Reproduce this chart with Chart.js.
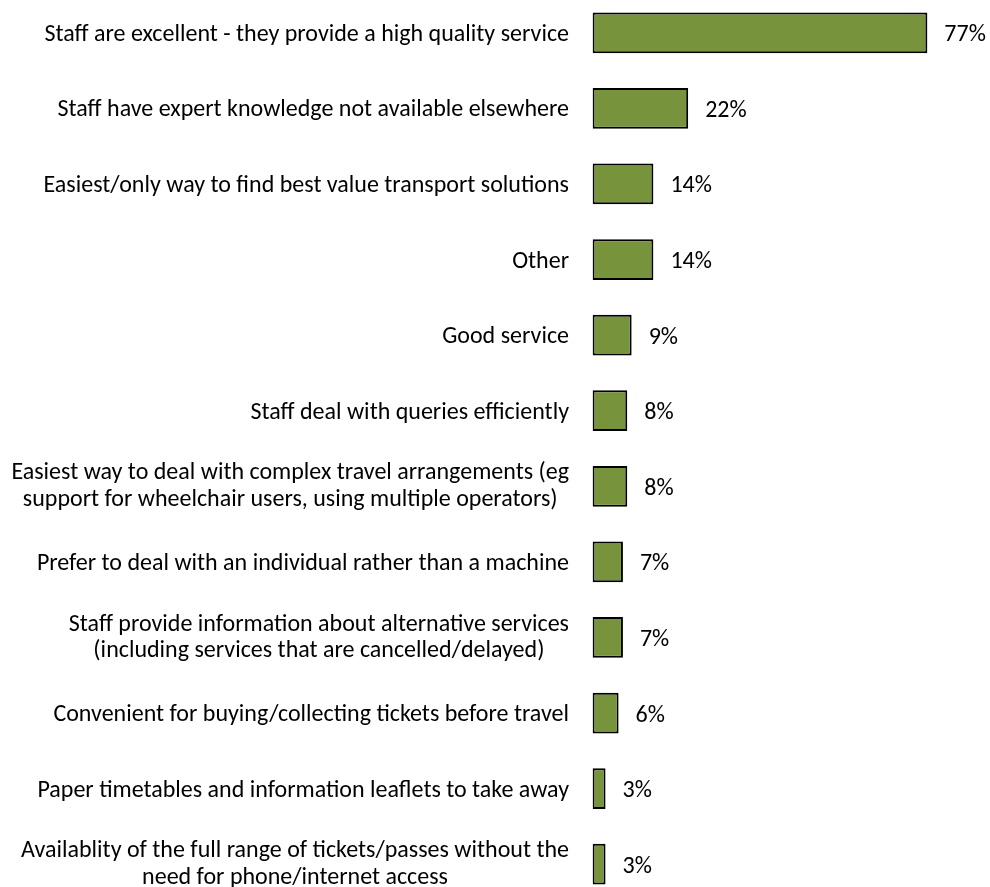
<!DOCTYPE html>
<html>
<head>
<meta charset="utf-8">
<script src="https://cdn.jsdelivr.net/npm/chart.js@4/dist/chart.umd.min.js"></script>
<style>
  html, body { margin: 0; padding: 0; background: #fff; overflow: hidden; }
  #wrap { position: absolute; left: 0; top: -5px; width: 990px; height: 907px; }
</style>
</head>
<body>
<div id="wrap"><canvas id="reasonsChart" width="990" height="907"></canvas></div>
<script>
const reasons = [
    'Staff are excellent - they provide a high quality service',
    'Staff have expert knowledge not available elsewhere',
    'Easiest/only way to find best value transport solutions',
    'Other',
    'Good service',
    'Staff deal with queries efficiently',
    ['Easiest way to deal with complex travel arrangements (eg', 'support for wheelchair users, using multiple operators)'],
    'Prefer to deal with an individual rather than a machine',
    ['Staff provide information about alternative services', '(including services that are cancelled/delayed)'],
    'Convenient for buying/collecting tickets before travel',
    'Paper timetables and information leaflets to take away',
    ['Availablity of the full range of tickets/passes without the', 'need for phone/internet access']
];
const shares = [77, 22, 14, 14, 9, 8, 8, 7, 7, 6, 3, 3];

const labelFont = '24px Carlito, Lato, "Open Sans", sans-serif';
const baselineShift = 8;

// category names, centred line by line and right-aligned as a block
const reasonLabels = {
    id: 'reasonLabels',
    afterDraw(chart) {
        const { ctx, scales: { y } } = chart;
        const right = 569, lineHeight = 26.8;
        ctx.save();
        ctx.font = labelFont;
        ctx.fillStyle = '#000';
        ctx.textAlign = 'center';
        ctx.textBaseline = 'alphabetic';
        reasons.forEach((label, i) => {
            const lines = Array.isArray(label) ? label : [label];
            const n = lines.length;
            const w = Math.max(...lines.map(l => ctx.measureText(l).width));
            const cy = y.getPixelForValue(i) + baselineShift - (n - 1) * 1.5;
            lines.forEach((line, j) => {
                ctx.fillText(line, right - w / 2, cy + (j - (n - 1) / 2) * lineHeight);
            });
        });
        ctx.restore();
    }
};

// percentage next to each bar
const valueLabels = {
    id: 'valueLabels',
    afterDatasetsDraw(chart) {
        const { ctx } = chart;
        ctx.save();
        ctx.font = labelFont;
        ctx.fillStyle = '#000';
        ctx.textAlign = 'left';
        ctx.textBaseline = 'alphabetic';
        chart.getDatasetMeta(0).data.forEach((bar, i) => {
            ctx.fillText(shares[i] + '%', bar.x + 17, bar.y + baselineShift + 0.5);
        });
        ctx.restore();
    }
};

new Chart(document.getElementById('reasonsChart'), {
    type: 'bar',
    data: {
        labels: reasons,
        datasets: [{
            data: shares,
            backgroundColor: '#77933C',
            borderColor: '#000',
            borderWidth: 2,
            borderSkipped: false,
            categoryPercentage: 1,
            barPercentage: 0.54
        }]
    },
    options: {
        indexAxis: 'y',
        responsive: false,
        animation: false,
        layout: { padding: 0 },
        plugins: { legend: { display: false }, tooltip: { enabled: false } },
        scales: {
            x: { display: false, min: 0, max: 91.4 },
            y: {
                grid: { display: false },
                border: { display: false },
                ticks: { display: false },
                afterFit(scale) { scale.width = 592.5; }
            }
        }
    },
    plugins: [reasonLabels, valueLabels]
});
</script>
</body>
</html>
